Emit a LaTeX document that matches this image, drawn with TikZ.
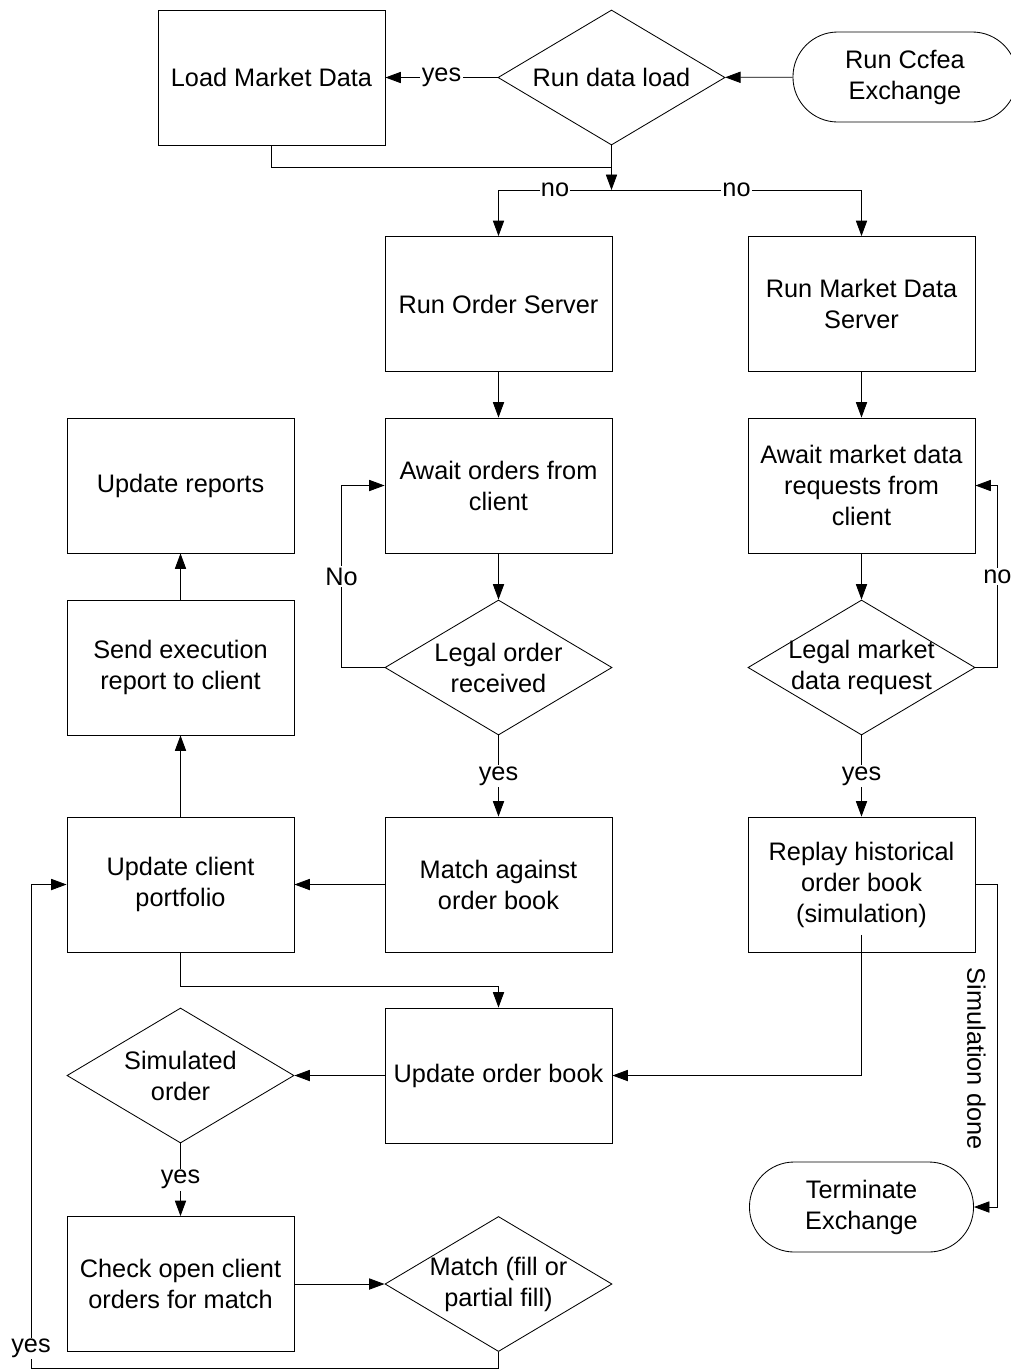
\documentclass[tikz,border=0pt]{standalone}
\usepackage{fontspec}
\setmainfont{Liberation Sans}
\usetikzlibrary{positioning,arrows.meta,shapes.geometric}

\begin{document}
\begin{tikzpicture}[
  x=0.025cm, y=-0.025cm,
  font=\fontsize{18}{22}\selectfont,
  line width=0.6pt,
  box/.style={draw,minimum width=5.675cm,minimum height=3.375cm,align=center,inner sep=2pt},
  decision/.style={draw,diamond,shape aspect=1.68,minimum width=5.675cm,minimum height=3.375cm,inner sep=-4pt,align=center},
  term/.style={draw,rounded corners=1.12cm,minimum width=5.6cm,minimum height=2.25cm,align=center},
  lbl/.style={fill=white,inner sep=1pt},
  >={Triangle[length=11pt,width=8pt]}
]
\useasboundingbox (0,0) rectangle (1011,1370);
% --- start and data load ---
\node[box] (load) at (271.5,77.5) {Load Market Data};
\node[decision] (rundl) at (611.5,77.5) {Run data load};
\node[term] (start) at (905,77) {Run Ccfea\\Exchange};
\draw[->] (start) -- (rundl);
\draw[->] (rundl) -- node[lbl]{yes} (load);
\coordinate (merge) at (611.5,167);
\coordinate (split) at (611.5,190);
\draw (load.south) |- (merge);
\draw[->] (rundl.south) -- (split);
% --- servers ---
\node[box] (ordsrv) at (498.5,304) {Run Order Server};
\node[box] (mdsrv) at (861.5,304) {Run Market Data\\Server};
\draw[->] (split) -| node[lbl,pos=0.25]{no} (ordsrv.north);
\draw[->] (split) -| node[lbl,pos=0.25]{no} (mdsrv.north);
\node[box] (awaitord) at (498.5,485.5) {Await orders from\\client};
\node[box] (awaitmd) at (861.5,485.5) {Await market data\\requests from\\client};
\node[decision] (legalord) at (498.5,667.5) {Legal order\\received};
\node[decision] (legalmd) at (861.5,667.5) {Legal market\\data request};
\draw[->] (ordsrv) -- (awaitord);
\draw[->] (mdsrv) -- (awaitmd);
\draw[->] (awaitord) -- (legalord);
\draw[->] (awaitmd) -- (legalmd);
\draw[->] (legalord.west) -- ++(-43,0) |- node[lbl,pos=0.25]{No} (awaitord.west);
\draw[->] (legalmd.east) -- ++(22,0) |- node[lbl,pos=0.25]{no} (awaitmd.east);
% --- matching and reports ---
\node[box] (reports) at (180.5,485.5) {Update reports};
\node[box] (sendrep) at (180.5,667.5) {Send execution\\report to client};
\node[box] (portf) at (180.5,884.5) {Update client\\portfolio};
\node[box] (matchob) at (498.5,884.5) {Match against\\order book};
\node[box] (replay) at (861.5,884.5) {Replay historical\\order book\\(simulation)};
\draw[->] (legalord) -- node[lbl]{yes} (matchob);
\draw[->] (legalmd) -- node[lbl]{yes} (replay);
\draw[->] (matchob) -- (portf);
\draw[->] (portf) -- (sendrep);
\draw[->] (sendrep) -- (reports);
% --- order book and simulation ---
\node[box] (updob) at (498.5,1075.5) {Update order book};
\node[decision] (simord) at (180.5,1075.5) {Simulated\\order};
\node[term] (stop) at (861.5,1207) {Terminate\\Exchange};
\node[box] (check) at (180.5,1284) {Check open client\\orders for match};
\node[decision] (matchfill) at (498.5,1284) {Match (fill or\\partial fill)};
\draw[->] (portf.south) -- ++(0,34) -| (updob.north);
\draw[->] ([yshift=-1.26cm]replay.center) |- (updob.east);
\draw[->] (replay.east) -- ++(22,0) |- node[pos=0.27,rotate=-90,anchor=north,inner sep=8pt]{Simulation done} (stop.east);
\draw[->] (updob) -- (simord);
\draw[->] (simord) -- node[lbl]{yes} (check);
\draw[->] (check) -- (matchfill);
\draw[->] (matchfill.south) -- ++(0,16) -- ++(-467.5,0) |- node[lbl,pos=0.02]{yes} (portf.west);
\end{tikzpicture}
\end{document}
